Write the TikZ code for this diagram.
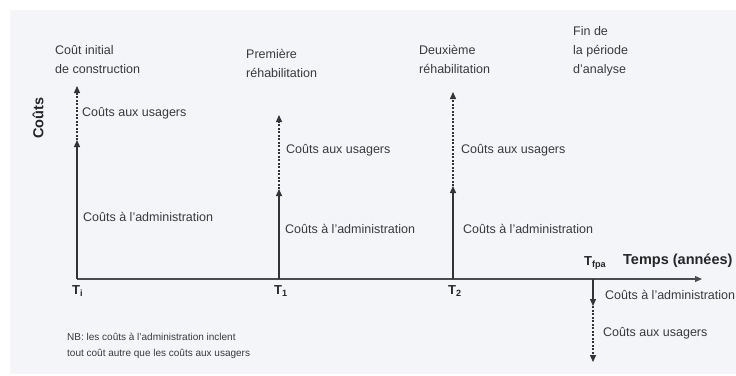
\documentclass[tikz,border=0pt]{standalone}
\usepackage{fontspec}
\setmainfont{Liberation Sans}
\usetikzlibrary{arrows.meta}
\definecolor{panel}{HTML}{F3F5F8}
\definecolor{txt}{HTML}{3A3A3A}
\tikzstyle{cost} = [line width=1.3pt,draw=black!80,-{Triangle[width=6pt,length=7pt]}]
\begin{document}
\begin{tikzpicture}[x=1pt,y=-1pt]
    \tikzstyle{note}=[anchor=west,inner sep=0pt,text=txt,font=\fontsize{12.5}{19}\selectfont]
    \tikzstyle{event}=[note,anchor=north west,align=left]
    \tikzstyle{admin}=[cost]
    \tikzstyle{usager}=[cost,dash pattern=on 2pt off 1.5pt]
    \tikzstyle{tlabel}=[anchor=west,inner sep=0pt,text=black!85,font=\bfseries\fontsize{13}{15}\selectfont]
    \tikzstyle{axis title}=[anchor=west,inner sep=0pt,text=black!85,font=\bfseries\fontsize{14.5}{17}\selectfont]

    % Background panel
    \useasboundingbox (0,0) rectangle (736,375);
    \fill[panel] (10,10) rectangle (736,374);

    % Points on the time axis
    \coordinate (Ti) at (77,279);
    \coordinate (T1) at (279,279);
    \coordinate (T2) at (453,279);
    \coordinate (Tf) at (593,279);
    \coordinate (end) at (702,279);

    % Tips of the cost arrows
    \coordinate (Ti-a) at (77,140);
    \coordinate (Ti-u) at (77,86);
    \coordinate (T1-a) at (279,189);
    \coordinate (T1-u) at (279,115);
    \coordinate (T2-a) at (453,186);
    \coordinate (T2-u) at (453,92);
    \coordinate (Tf-a) at (593,306);
    \coordinate (Tf-u) at (593,362);

    % Draw the time axis
    \draw[line width=1.3pt,draw=black!70,-{Triangle[width=6pt,length=7pt]}] (Ti) -- (end);

    % Draw the cost arrows
    \draw[admin] (Ti) -- (Ti-a);
    \draw[usager] (Ti-a) -- (Ti-u);
    \draw[admin] (T1) -- (T1-a);
    \draw[usager] (T1-a) -- (T1-u);
    \draw[admin] (T2) -- (T2-a);
    \draw[usager] (T2-a) -- (T2-u);
    \draw[admin] (Tf) -- (Tf-a);
    \draw[usager] (Tf-a) -- (Tf-u);

    % Events above the arrows
    \node[event] (e0) at (55,45) {Coût initial\\de construction};
    \node[event] (e1) at (246,49) {Première\\réhabilitation};
    \node[event] (e2) at (419,45) {Deuxième\\réhabilitation};
    \node[event] (e3) at (573,26) {Fin de\\la période\\d'analyse};

    % Annotate the arrows
    \node[note] (u0) at (82,113) {Coûts aux usagers};
    \node[note] (a0) at (83,217) {Coûts à l'administration};
    \node[note] (u1) at (286,150) {Coûts aux usagers};
    \node[note] (a1) at (285,229) {Coûts à l'administration};
    \node[note] (u2) at (461,150) {Coûts aux usagers};
    \node[note] (a2) at (463,229) {Coûts à l'administration};
    \node[note] (af) at (605,295) {Coûts à l'administration};
    \node[note] (uf) at (603,333) {Coûts aux usagers};

    % Time labels
    \node[tlabel] (ti) at (72,291) {T\textsubscript{i}};
    \node[tlabel] (t1) at (274,291) {T\textsubscript{1}};
    \node[tlabel] (t2) at (448,291) {T\textsubscript{2}};
    \node[tlabel] (tf) at (584,263) {T\textsubscript{fpa}};

    % Axis titles
    \node[axis title] (temps) at (623,261) {Temps (années)};
    \node[axis title,anchor=center,rotate=90] (couts) at (38,118) {Coûts};

    % Note
    \node[note,anchor=north west,align=left,font=\fontsize{10}{16}\selectfont] (nb) at (67,333)
        {NB: les coûts à l'administration inclent\\tout coût autre que les coûts aux usagers};
\end{tikzpicture}
\end{document}
